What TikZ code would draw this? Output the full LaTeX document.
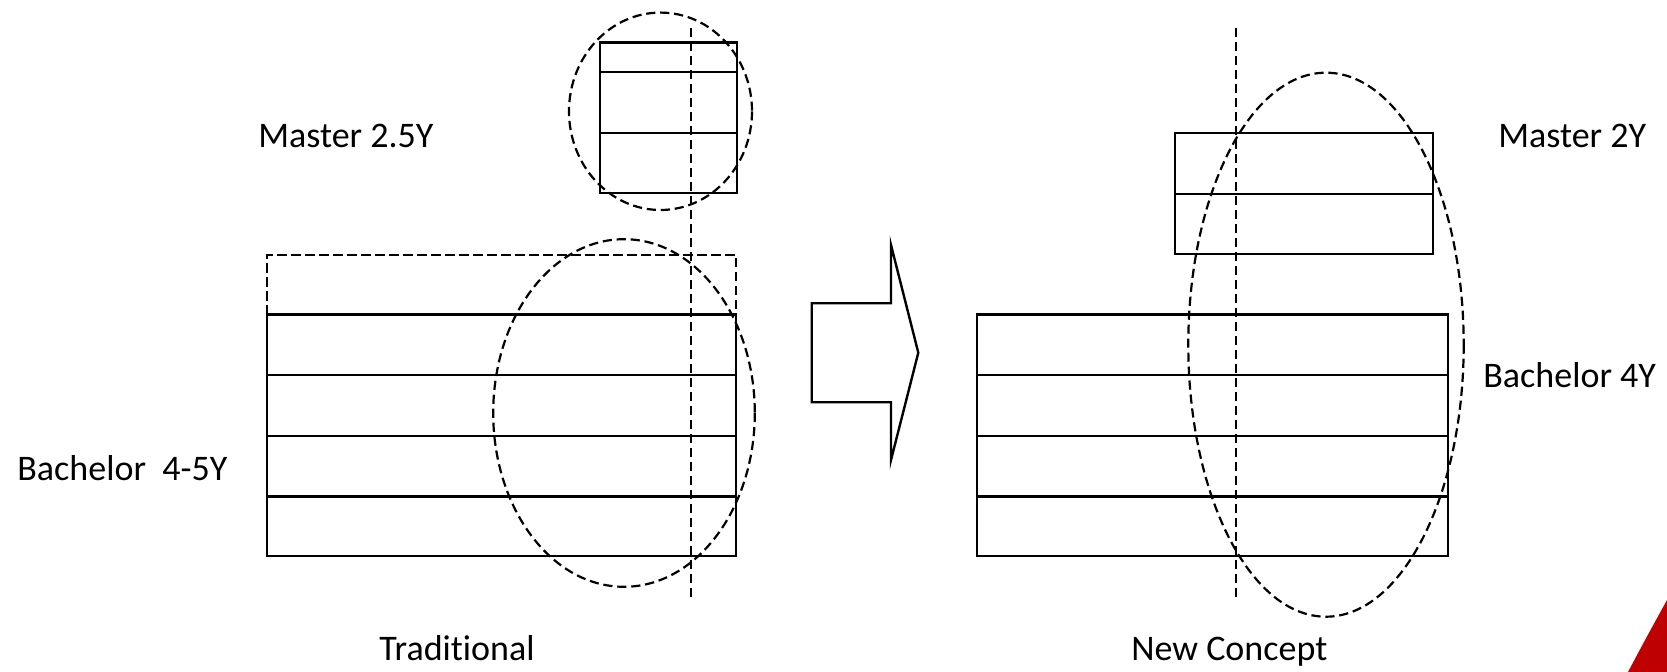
\documentclass[tikz,border=0pt]{standalone}
\usepackage{fontspec}
\setmainfont{Carlito}[Ligatures={NoCommon,NoRequired,NoContextual}]
\begin{document}
\begin{tikzpicture}[x=0.5pt,y=-0.5pt,
  box/.style={draw=black,line width=1.2pt},
  dsh/.style={draw=black,line width=1.1pt,dash pattern=on 4.6pt off 2.4pt},
  lbl/.style={anchor=base west,inner sep=0pt,font=\fontsize{18}{21}\selectfont}]
\useasboundingbox (0,0) rectangle (1667,672);
\fill[white] (0,0) rectangle (1667,672);
% red corner
\fill[red!75!black] (1628,672) .. controls (1645,640) .. (1667,600) -- (1667,672) -- cycle;
% ---------- Traditional ----------
\draw[box] (600,42.7) rectangle (737,193.3);
\draw[box] (600,72.3) -- (737,72.3);
\draw[box] (600,133.3) -- (737,133.3);
\draw[dsh] (660.5,111.3) ellipse [x radius=91.5, y radius=98.7];
\draw[dsh] (267,314.7) -- (267,255) -- (736,255) -- (736,314.7);
\draw[box] (267,314.7) rectangle (736,556);
\foreach \yy in {375.3,435.9,496.5} \draw[box] (267,\yy) -- (736,\yy);
\draw[dsh] (624,413) ellipse [x radius=130.8, y radius=173.8];
\draw[dsh] (691,28) -- (691,597);
\node[lbl] (m25) at (258,148) {Master 2.5Y};
\node[lbl] (b45) at (17,481) {Bachelor\ \ 4-5Y};
\node[lbl] (trad) at (379,661) {Traditional};
% ---------- arrow ----------
\draw[box,line join=miter] (811.7,303.3) -- (891,303.3) -- (891,245) -- (918.3,352.7)
  -- (891,460) -- (891,402.3) -- (811.7,402.3) -- cycle;
% ---------- New Concept ----------
\draw[box] (1175,133.3) rectangle (1433,254.3);
\draw[box] (1175,194) -- (1433,194);
\draw[box] (977,314.7) rectangle (1448,556);
\foreach \yy in {375.3,435.9,496.5} \draw[box] (977,\yy) -- (1448,\yy);
\draw[dsh] (1326,344.7) ellipse [x radius=137.7, y radius=272];
\draw[dsh] (1235.7,28) -- (1235.7,597);
\node[lbl] (m2) at (1498,148) {Master 2Y};
\node[lbl] (b4) at (1483,388) {Bachelor 4Y};
\node[lbl] (nc) at (1131,661) {New Concept};
\end{tikzpicture}
\end{document}
